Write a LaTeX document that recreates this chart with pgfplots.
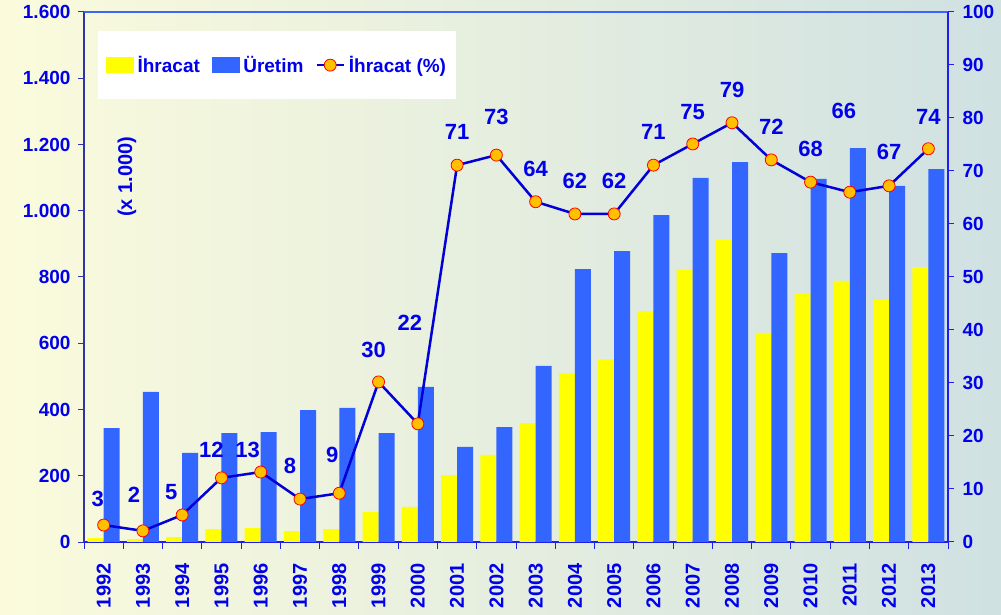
\documentclass[border=0pt]{standalone}
\usepackage{pgfplots}
\pgfplotsset{compat=1.18}
\usepackage{pgfplotstable}
\usepackage{fontspec}
\setmainfont{Liberation Sans}
\definecolor{txtblue}{RGB}{0,0,235}
\definecolor{baryel}{RGB}{255,255,0}
\definecolor{barblue}{RGB}{51,102,255}
\definecolor{lineblue}{RGB}{0,0,215}
\definecolor{mkfill}{RGB}{255,192,0}
\definecolor{bgL}{RGB}{251,251,220}
\definecolor{bgR}{RGB}{208,225,226}
\definecolor{axL}{RGB}{50,50,170}
\definecolor{axT}{RGB}{60,100,255}
\definecolor{axR}{RGB}{30,30,240}
\pgfplotsset{
  my line legend/.style={legend image code/.code={\draw[mark repeat=2, mark phase=2, ##1] plot coordinates {(0bp,0bp) (13.5bp,0bp) (27bp,0bp)};}},
  my yel legend/.style={legend image code/.code={\fill[baryel] (0bp,-7.5bp) rectangle (27bp,7.5bp);}},
  my blu legend/.style={legend image code/.code={\fill[barblue] (0bp,-7.5bp) rectangle (27bp,7.5bp);}},
}
\pgfplotstableread{
x ihr ure
0 12 344
1 9 453
2 15 269
3 39 329
4 42 332
5 33 398
6 39 405
7 91 329
8 106 468
9 202 287
10 263 347
11 359 532
12 508 824
13 552 878
14 697 987
15 821 1099
16 912 1147
17 631 872
18 749 1096
19 788 1189
20 731 1075
21 830 1126
}\bars
\pgfplotstableread{
x p lab dx dy
0 3.2 3 -6 26
1 2.1 2 -9 36
2 5.1 5 -11 23
3 12.1 12 -10 28
4 13.2 13 -13 22
5 8.1 8 -10 33
6 9.2 9 -7 38
7 30.2 30 -5 32
8 22.3 22 -8 101
9 71.1 71 0 33
10 73.0 73 0 38
11 64.2 64 0 33
12 61.9 62 0 33
13 61.9 62 0 33
14 71.1 71 0 33
15 75.1 75 0 32
16 79.1 79 0 33
17 72.1 72 0 33
18 67.9 68 0 33
19 66.0 66 -6 81
20 67.2 67 0 34
21 74.2 74 0 32
}\pct
\begin{document}
\begin{tikzpicture}
\shade[left color=bgL,right color=bgR] (0bp,0bp) rectangle (1001bp,615bp);
\begin{axis}[
  at={(84bp,73bp)}, anchor=south west,
  scale only axis, width=864bp, height=530bp,
  xmin=-0.5, xmax=21.5, ymin=0, ymax=1600,
  ybar=0pt, bar width=16bp,
  axis x line*=bottom, axis y line*=left,
  tick align=outside,
  major tick length=6bp, minor tick length=7bp,
  xtick={0,...,21},
  xticklabels={1992,1993,1994,1995,1996,1997,1998,1999,2000,2001,2002,2003,2004,2005,2006,2007,2008,2009,2010,2011,2012,2013},
  minor xtick={-0.5,0.5,...,21.5},
  major x tick style={draw=none},
  minor x tick style={draw=axR, line width=1bp},
  ytick={0,200,...,1600},
  y tick style={draw=axL, line width=1bp},
  scaled y ticks=false,
  /pgf/number format/1000 sep={.},
  /pgf/number format/assume math mode=true,
  yticklabel style={font=\fontsize{19bp}{22bp}\selectfont\bfseries, text=txtblue},
  yticklabel shift=4bp,
  xticklabel style={rotate=90, anchor=east, font=\fontsize{20bp}{24bp}\selectfont\bfseries, text=txtblue},
  xticklabel shift=12bp,
  y axis line style={draw=axL, line width=1.3bp},
  x axis line style={draw=axR, line width=1.5bp},
]
\addplot[fill=baryel, draw=none] table[x=x,y=ihr]{\bars};
\addplot[fill=barblue, draw=none] table[x=x,y=ure]{\bars};
\node[rotate=90, font=\fontsize{20bp}{24bp}\selectfont\bfseries, text=txtblue] at (rel axis cs:0.0498,0.689) {(x 1.000)};
\end{axis}
\begin{axis}[
  at={(84bp,73bp)}, anchor=south west,
  scale only axis, width=864bp, height=530bp,
  xmin=-0.5, xmax=21.5, ymin=0, ymax=100,
  axis x line*=top, axis y line*=right,
  xtick=\empty,
  tick align=outside,
  major tick length=6bp,
  ytick={0,10,...,100},
  y tick style={draw=axR, line width=1bp},
  /pgf/number format/assume math mode=true,
  yticklabel style={font=\fontsize{19bp}{22bp}\selectfont\bfseries, text=txtblue},
  yticklabel shift=5bp,
  y axis line style={draw=axR, line width=1.5bp},
  x axis line style={draw=axT, line width=1.3bp},
  legend columns=3,
  legend style={at={(0.0162,0.964)}, anchor=north west, fill=white, draw=none,
    font=\fontsize{19bp}{22bp}\selectfont\bfseries, text=txtblue,
    inner xsep=8bp, inner ysep=23bp,
    /tikz/every odd column/.append style={column sep=2bp},
    /tikz/every even column/.append style={column sep=10bp}},
]
\addlegendimage{my yel legend}
\addlegendentry{İhracat}
\addlegendimage{my blu legend}
\addlegendentry{Üretim}
\addplot[lineblue, line width=2.5bp, mark=*, mark size=6bp,
  mark options={fill=mkfill, draw=red, line width=0.8bp},
  my line legend,
  nodes near coords, point meta=explicit symbolic,
  visualization depends on={\thisrow{dx}\as\dx},
  visualization depends on={\thisrow{dy}\as\dy},
  every node near coord/.append style={anchor=center, xshift={\dx*1bp}, yshift={\dy*1bp},
    font=\fontsize{22bp}{26bp}\selectfont\bfseries, text=txtblue}]
  table[x=x,y=p,meta=lab]{\pct};
\addlegendentry{İhracat (\%)}
\end{axis}
\end{tikzpicture}
\end{document}
